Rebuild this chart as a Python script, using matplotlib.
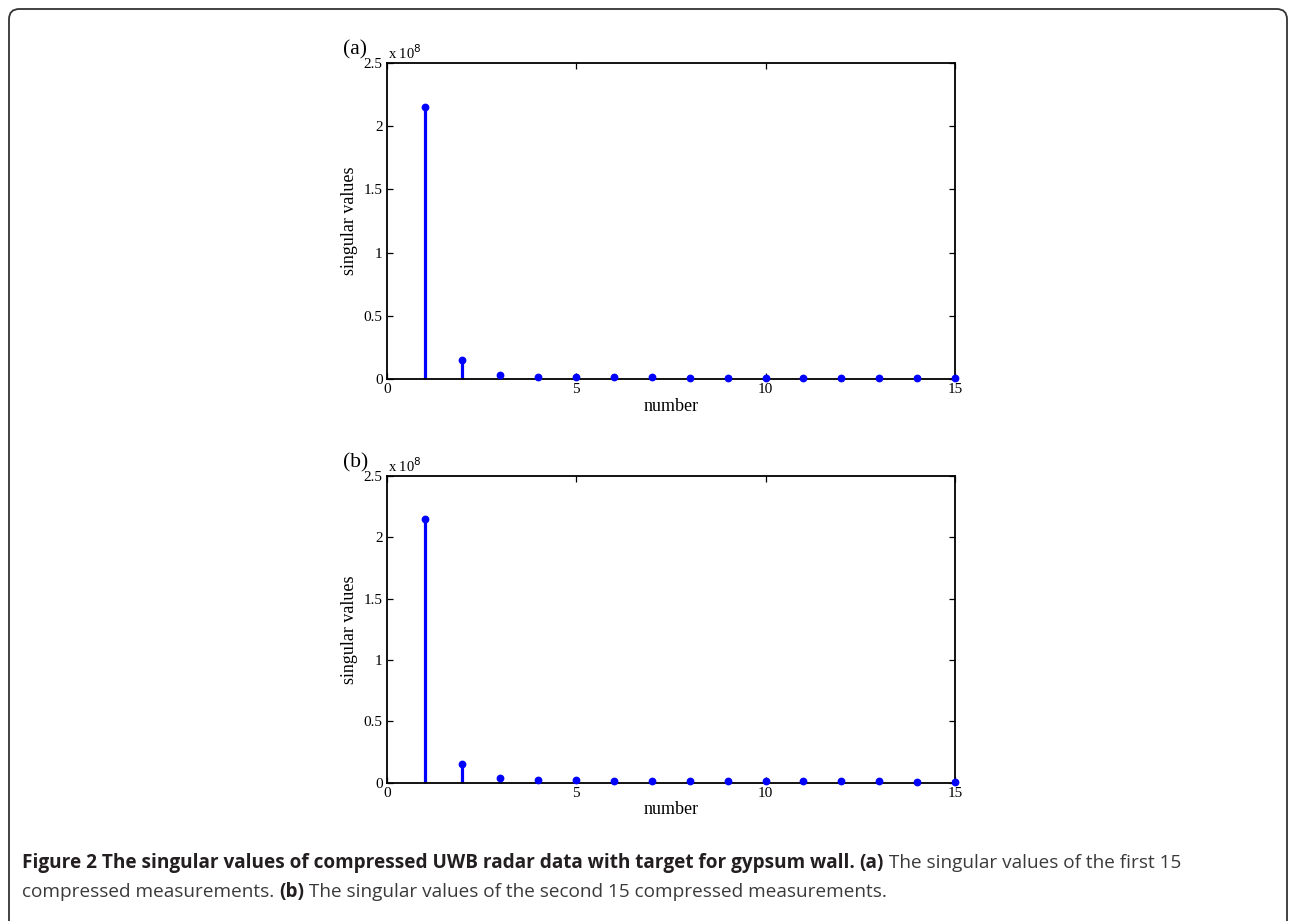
import matplotlib
matplotlib.use("Agg")
import matplotlib.pyplot as plt
from matplotlib.patches import FancyBboxPatch
from matplotlib.ticker import FuncFormatter
import numpy as np

# ---- data ----
numbers = list(range(1, 16))
sv_first = [2.15e8, 0.152e8, 0.034e8, 0.018e8, 0.015e8, 0.015e8, 0.014e8, 0.011e8,
            0.011e8, 0.011e8, 0.010e8, 0.010e8, 0.010e8, 0.009e8, 0.009e8]
sv_second = [2.15e8, 0.15e8, 0.036e8, 0.017e8, 0.017e8, 0.016e8, 0.012e8, 0.012e8,
             0.012e8, 0.012e8, 0.012e8, 0.012e8, 0.012e8, 0.007e8, 0.007e8]
panel_labels = ["(a)", "(b)"]
x_ticks = [0, 5, 10, 15]
y_ticks = [0, 0.5e8, 1e8, 1.5e8, 2e8, 2.5e8]
xlabel = "number"
ylabel = "singular values"
cap_bold1 = "Figure 2 The singular values of compressed UWB radar data with target for gypsum wall. "
cap_bold_a = "(a)"
cap_norm1 = " The singular values of the first 15"
cap_norm2a = "compressed measurements. "
cap_bold_b = "(b)"
cap_norm2b = " The singular values of the second 15 compressed measurements."

W, H = 1292, 921
fig = plt.figure(figsize=(W / 100, H / 100), dpi=100)
serif = ["Liberation Serif", "DejaVu Serif"]

def px(x, y):
    return x / W, 1 - y / H

panels = [
    (sv_first, 386.7, 955, 63, 379),
    (sv_second, 386.7, 955, 476, 782.5),
]

def fmt(v, pos):
    return "%g" % (v / 1e8)

for (vals, l, r, t, b), lab in zip(panels, panel_labels):
    ax = fig.add_axes([l / W, 1 - b / H, (r - l) / W, (b - t) / H])
    markerline, stemlines, baseline = ax.stem(numbers, vals, basefmt=" ")
    plt.setp(stemlines, color=(0, 0, 1), linewidth=2.3)
    plt.setp(markerline, color=(0, 0, 1), markersize=4.6, clip_on=False, zorder=5)
    stemlines.set_clip_on(False)
    ax.set_xlim(0, 15)
    ax.set_ylim(0, 2.5e8)
    ax.set_xticks(x_ticks)
    ax.set_yticks(y_ticks)
    ax.yaxis.set_major_formatter(FuncFormatter(fmt))
    ax.tick_params(direction="in", top=True, right=True, length=4.5, width=0.9,
                   labelsize=11, pad=3)
    for lbl in ax.get_xticklabels() + ax.get_yticklabels():
        lbl.set_family(serif)
    for sp in ax.spines.values():
        sp.set_linewidth(1.3)
    ax.set_xlabel(xlabel, family=serif, fontsize=13, labelpad=1)
    ax.set_ylabel(ylabel, family=serif, fontsize=13, labelpad=4)
    ax.text(0.002, 1.004, r"x 10$^{8}$", transform=ax.transAxes, family=serif,
            fontsize=10.5, ha="left", va="bottom")
    fig.text(*px(343, t - 13), lab, family=serif, fontsize=15.5, ha="left", va="center")

# border
border = FancyBboxPatch((9 / W, -0.05), (1287 - 9) / W, (1 - 9 / H) + 0.05,
                        boxstyle="round,pad=0,rounding_size=0.008",
                        transform=fig.transFigure, fill=False,
                        edgecolor="#333333", linewidth=1.3, mutation_aspect=W / H)
fig.patches.append(border)

# caption with mixed bold/normal
capfam = ["Open Sans", "DejaVu Sans"]
renderer = fig.canvas.get_renderer()

def runs(parts, x0, y0, size, draw=True):
    x = x0
    made = []
    for txt, bold in parts:
        t = fig.text(x / W, 1 - y0 / H, txt, family=capfam, fontsize=size,
                     weight="bold" if bold else "normal",
                     color="#231f20" if bold else "#3a3a3a",
                     ha="left", va="baseline")
        bb = t.get_window_extent(renderer=renderer)
        x += bb.width
        made.append(t)
    if not draw:
        for t in made:
            t.remove()
    return x

line1 = [(cap_bold1, True), (cap_bold_a, True), (cap_norm1, False)]
line2 = [(cap_norm2a, False), (cap_bold_b, True), (cap_norm2b, False)]
x0 = 22
base = 12.0
end = runs(line1, x0, 868, base, draw=False)
size = base * (1178 - x0) / (end - x0)
runs(line1, x0, 868, size)
runs(line2, x0, 897, size)

fig.savefig("out.png", dpi=100)
